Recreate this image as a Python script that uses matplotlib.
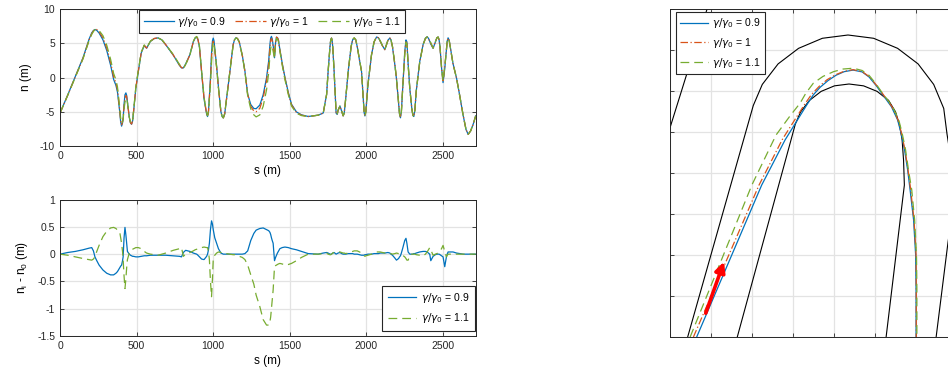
import numpy as np
import matplotlib
matplotlib.use("Agg")
import matplotlib.pyplot as plt
from matplotlib.ticker import FormatStrFormatter, MultipleLocator, NullFormatter

plt.rcParams["font.family"] = ["Liberation Sans", "DejaVu Sans"]
plt.rcParams["axes.unicode_minus"] = False
plt.rcParams["mathtext.fontset"] = "dejavusans"

# station along the track (m), lateral offset of the reference run (m)
# and deviations of the other two runs from it (m)
s_pos = [0, 50, 100, 150, 190, 207, 218, 228, 240, 255,
         280, 305, 330, 350, 365, 375, 390, 396, 402, 408,
         412, 418, 424, 430, 435, 440, 452, 460, 467, 474,
         480, 495, 511, 530, 550, 565, 590, 615, 640, 665,
         690, 739, 780, 793, 805, 820, 848, 870, 882, 892,
         900, 910, 924, 940, 957, 963, 969, 975, 982, 989,
         995, 1000, 1005, 1010, 1022, 1034, 1050, 1058, 1066, 1075,
         1085, 1109, 1130, 1139, 1148, 1158, 1170, 1190, 1207, 1225,
         1245, 1265, 1280, 1304, 1326, 1348, 1362, 1370, 1375, 1380,
         1385, 1391, 1400, 1407, 1413, 1419, 1425, 1435, 1450, 1468,
         1490, 1511, 1543, 1576, 1620, 1685, 1718, 1740, 1750, 1762,
         1767, 1772, 1776, 1780, 1789, 1798, 1802, 1809, 1815, 1827,
         1838, 1848, 1855, 1865, 1881, 1900, 1910, 1920, 1930, 1940,
         1955, 1968, 1980, 1985, 1990, 1996, 2010, 2033, 2050, 2066,
         2078, 2090, 2105, 2120, 2140, 2153, 2160, 2170, 2185, 2196,
         2210, 2216, 2222, 2228, 2236, 2250, 2258, 2264, 2272, 2283,
         2296, 2303, 2309, 2316, 2325, 2348, 2370, 2385, 2396, 2405,
         2413, 2420, 2435, 2450, 2460, 2468, 2474, 2480, 2490, 2500,
         2511, 2522, 2527, 2533, 2540, 2550, 2565, 2588, 2610, 2631,
         2650, 2664, 2680, 2697, 2713]

n_ref = [-5.2, -2.6, 0.1, 2.8, 5.5, 6.4, 6.8, 7.05, 7.0, 6.7,
         5.8, 4.3, 2.2, 0.1, -0.8, -1.8, -4.8, -6.3, -6.9, -6.5,
         -6.0, -4.2, -3.0, -2.6, -2.8, -3.6, -5.8, -6.6, -6.8, -6.3,
         -5.0, -1.5, 0.9, 3.6, 4.7, 4.3, 5.3, 5.7, 5.8, 5.5,
         4.8, 3.3, 1.8, 1.45, 1.37, 1.9, 3.3, 5.2, 5.75, 5.9,
         5.6, 4.5, 0.9, -3.0, -5.3, -5.7, -5.0, -3.0, -0.5, 3.0,
         4.8, 5.3, 5.0, 4.0, 1.5, -1.5, -5.0, -5.7, -5.9, -5.3,
         -3.5, 0.9, 4.8, 5.5, 5.8, 5.7, 5.2, 3.2, 0.9, -2.5,
         -4.2, -4.9, -5.0, -4.5, -3.0, -0.5, 2.0, 4.4, 5.4, 5.7,
         5.4, 4.5, 3.0, 5.2, 5.9, 5.8, 5.5, 4.0, 2.0, -0.1,
         -2.3, -4.0, -5.1, -5.5, -5.7, -5.5, -5.2, -2.5, 0.9, 4.5,
         5.5, 5.75, 5.4, 4.5, 0.9, -3.5, -5.2, -5.4, -4.8, -4.2,
         -4.9, -5.6, -5.2, -3.0, 0.9, 4.5, 5.5, 5.75, 5.5, 4.5,
         2.5, 0.9, -3.5, -5.1, -5.6, -5.0, -1.0, 3.3, 5.2, 5.9,
         5.8, 5.3, 4.6, 4.05, 5.4, 5.75, 5.5, 4.5, 2.0, -0.1,
         -3.8, -5.3, -5.85, -5.0, -1.8, 3.5, 5.2, 5.0, 2.0, -1.6,
         -4.5, -5.5, -5.7, -4.8, -2.0, 2.3, 4.8, 5.7, 5.9, 5.7,
         5.3, 5.0, 4.3, 5.2, 5.8, 5.9, 5.5, 4.5, 1.5, -0.7,
         1.5, 4.0, 5.3, 5.75, 5.4, 4.0, 2.0, -0.1, -2.8, -5.5,
         -7.6, -8.3, -7.8, -6.8, -5.6]

dn_09 = [0.0, 0.03, 0.05, 0.08, 0.11, 0.12, 0.06, -0.05, -0.12, -0.20,
         -0.29, -0.35, -0.38, -0.38, -0.35, -0.32, -0.25, -0.22, -0.20, -0.12,
         -0.05, 0.30, 0.49, 0.35, 0.20, 0.05, 0.0, -0.02, -0.03, -0.04,
         -0.04, -0.05, -0.05, -0.04, -0.03, -0.03, -0.02, -0.02, -0.02, -0.02,
         -0.02, -0.03, -0.04, -0.05, 0.03, 0.07, 0.05, 0.02, 0.01, 0.0,
         -0.02, -0.05, -0.09, -0.10, -0.04, 0.0, 0.08, 0.20, 0.45, 0.61,
         0.55, 0.45, 0.37, 0.30, 0.20, 0.10, 0.02, 0.01, 0.0, 0.0,
         0.0, 0.0, 0.0, 0.0, 0.0, 0.0, 0.0, 0.0, 0.01, 0.06,
         0.25, 0.38, 0.44, 0.47, 0.48, 0.45, 0.43, 0.40, 0.36, 0.30,
         0.25, 0.20, -0.12, -0.06, -0.02, 0.02, 0.05, 0.10, 0.12, 0.13,
         0.12, 0.10, 0.08, 0.05, 0.01, 0.0, 0.02, 0.03, 0.02, 0.0,
         0.0, 0.0, 0.01, 0.02, 0.03, 0.01, 0.0, 0.01, 0.02, 0.03,
         0.01, 0.0, 0.0, 0.0, 0.01, 0.01, 0.01, 0.0, 0.0, 0.0,
         -0.01, -0.02, -0.02, -0.02, -0.01, -0.01, 0.0, 0.0, 0.01, 0.01,
         0.01, 0.02, 0.02, 0.02, 0.03, 0.02, 0.0, -0.02, -0.07, -0.11,
         -0.08, -0.05, -0.03, 0.02, 0.10, 0.25, 0.29, 0.20, 0.04, 0.0,
         0.0, 0.0, 0.01, 0.01, 0.02, 0.04, 0.05, 0.05, 0.04, 0.02,
         0.0, -0.12, -0.04, -0.01, 0.0, 0.0, 0.0, -0.01, -0.03, -0.05,
         -0.23, -0.05, 0.0, 0.04, 0.04, 0.04, 0.04, 0.02, 0.01, 0.0,
         0.0, 0.0, 0.0, 0.0, 0.0]

dn_11 = [0.0, -0.02, -0.05, -0.08, -0.10, -0.11, -0.09, -0.05, 0.05, 0.16,
         0.32, 0.42, 0.48, 0.49, 0.47, 0.44, 0.40, 0.30, 0.20, 0.05,
         -0.10, -0.40, -0.63, -0.45, -0.25, -0.10, 0.02, 0.05, 0.08, 0.09,
         0.10, 0.12, 0.12, 0.10, 0.05, 0.02, 0.0, -0.01, -0.02, 0.0,
         0.02, 0.07, 0.10, 0.12, -0.04, 0.0, 0.03, 0.06, 0.08, 0.09,
         0.10, 0.11, 0.12, 0.13, 0.12, 0.12, 0.05, -0.10, -0.50, -0.78,
         -0.45, -0.10, -0.05, -0.02, 0.02, 0.04, 0.03, 0.02, 0.02, 0.01,
         0.01, 0.0, -0.01, -0.01, -0.02, -0.03, -0.04, -0.06, -0.10, -0.20,
         -0.38, -0.55, -0.75, -0.96, -1.20, -1.30, -1.30, -1.24, -1.15, -1.00,
         -0.85, -0.66, -0.23, -0.21, -0.20, -0.19, -0.18, -0.17, -0.18, -0.20,
         -0.19, -0.17, -0.12, -0.06, 0.0, 0.0, 0.01, 0.02, 0.0, -0.01,
         -0.01, 0.0, 0.01, 0.02, 0.03, 0.03, 0.04, 0.04, 0.04, 0.04,
         0.03, 0.02, 0.02, 0.01, 0.02, 0.04, 0.05, 0.06, 0.06, 0.06,
         0.04, 0.02, -0.02, -0.03, -0.04, -0.03, -0.02, 0.0, 0.02, 0.04,
         0.04, 0.04, 0.03, 0.02, 0.02, 0.01, 0.01, 0.0, 0.01, 0.02,
         0.01, 0.01, 0.0, -0.01, -0.02, -0.05, -0.08, -0.11, -0.11, -0.03,
         0.0, 0.0, 0.0, 0.0, -0.01, -0.02, -0.03, 0.0, 0.04, 0.08,
         0.12, 0.08, -0.02, 0.0, 0.01, 0.02, 0.04, 0.06, 0.10, 0.16,
         0.05, -0.05, -0.02, 0.0, 0.0, 0.0, 0.0, 0.0, 0.0, 0.0,
         0.0, 0.0, 0.0, 0.0, 0.0]

assert len(s_pos) == len(n_ref) == len(dn_09) == len(dn_11)

# track map around the hairpin (m)
outer_x = [8.6, 40.6, 45.0, 52.7, 62.7, 74.3, 86.8, 99.3, 111.0, 121.0,
           128.6, 133.5, 135.1, 137.1, 139.0, 135.6, 129.8]
outer_y = [0.0, 112.9, 123.2, 133.2, 140.8, 145.7, 147.3, 145.7, 140.8, 133.2,
           123.2, 111.5, 99.0, 86.3, 69.3, 46.3, 0.0]
inner_x = [32.8, 61.1, 63.7, 68.0, 73.7, 80.2, 87.3, 94.4, 101.0, 106.6,
           110.0, 112.0, 113.2, 113.9, 114.3, 105.4]
inner_y = [0.0, 103.8, 109.8, 115.4, 119.8, 122.5, 123.4, 122.5, 119.8, 115.4,
           109.8, 103.2, 96.1, 86.3, 74.1, 0.0]
edge_x = [-3.0, 19.0]
edge_y = [92.5, 163.0]

path09_x = [13.0, 44.7, 56.1, 66.7, 69.8, 73.2, 77.1, 81.0, 84.9, 89.3,
            93.7, 97.1, 100.5, 103.9, 108.0, 111.0, 112.7, 114.4, 115.9, 117.1,
            118.8, 119.8, 120.0, 120.0]
path09_y = [0.0, 74.1, 96.1, 113.2, 118.0, 121.8, 125.1, 127.7, 129.4, 130.2,
            129.3, 126.8, 122.7, 118.0, 112.3, 105.9, 99.4, 91.2, 81.5, 71.7,
            57.1, 40.0, 22.9, 0.0]
path10_x = [11.4, 43.4, 54.9, 65.6, 69.0, 72.7, 76.6, 80.7, 84.9, 89.3,
            93.8, 97.3, 100.7, 104.1, 108.3, 111.2, 112.9, 114.6, 116.1, 117.4,
            119.0, 120.0, 120.1, 120.1]
path10_y = [0.0, 74.1, 96.6, 113.4, 118.3, 122.2, 125.5, 127.9, 129.6, 130.4,
            129.4, 126.9, 122.8, 118.1, 112.3, 105.9, 99.4, 91.2, 81.5, 71.7,
            57.1, 40.0, 22.9, 0.0]
path11_x = [9.8, 39.9, 51.7, 58.5, 63.4, 66.3, 69.9, 74.6, 79.7, 84.4,
            89.4, 93.7, 97.1, 100.5, 103.9, 108.4, 111.5, 113.2, 114.9, 116.3,
            117.9, 119.3, 120.2, 120.4, 120.4]
path11_y = [0.0, 74.1, 98.5, 107.8, 114.0, 119.0, 123.8, 127.1, 129.4, 130.7,
            131.1, 130.0, 127.6, 123.4, 118.5, 112.7, 106.1, 99.5, 91.2, 81.5,
            71.7, 57.1, 40.0, 22.9, 0.0]

arrow_tail = (17.4, 11.6)
arrow_head = (26.3, 36.7)

C_BLUE = "#0072BD"
C_RED = "#D95319"
C_GREEN = "#77AC30"
LABELS = [r"$\gamma/\gamma_0$ = 0.9", r"$\gamma/\gamma_0$ = 1", r"$\gamma/\gamma_0$ = 1.1"]
FS = 7.5
LS_RED = (0, (6, 2, 1, 2))
LS_GREEN = (0, (7, 4))


def style_axes(ax):
    ax.grid(True, color="#E3E3E3", linewidth=0.9)
    ax.set_axisbelow(True)
    ax.tick_params(direction="in", top=True, right=True, length=3,
                   width=0.6, colors="#262626", labelsize=FS, pad=3.5)
    for sp in ax.spines.values():
        sp.set_color("#262626")
        sp.set_linewidth(0.7)


def style_legend(leg):
    fr = leg.get_frame()
    fr.set_edgecolor("#262626")
    fr.set_linewidth(0.8)
    fr.set_boxstyle("square", pad=0)


s = np.array(s_pos)
n1 = np.array(n_ref)
n09 = n1 + np.array(dn_09)
n11 = n1 + np.array(dn_11)

fig = plt.figure(figsize=(9.48, 3.80), dpi=100)

# lateral offset along the lap
ax1 = fig.add_axes([0.0633, 0.6158, 0.4388, 0.3605])
style_axes(ax1)
ax1.plot(s, n09, color=C_BLUE, lw=0.9, label=LABELS[0])
ax1.plot(s, n1, color=C_RED, lw=0.9, ls=LS_RED, label=LABELS[1])
ax1.plot(s, n11, color=C_GREEN, lw=0.9, ls=LS_GREEN, label=LABELS[2])
ax1.set_xlim(0, 2715)
ax1.set_ylim(-10, 10)
ax1.xaxis.set_major_locator(MultipleLocator(500))
ax1.yaxis.set_major_locator(MultipleLocator(5))
ax1.set_xlabel("s (m)", fontsize=8.5, labelpad=3)
ax1.set_ylabel("n (m)", fontsize=8.5, labelpad=6)
leg1 = ax1.legend(loc="upper center", bbox_to_anchor=(0.51, 0.99), ncol=3,
                  fontsize=FS, frameon=True, fancybox=False, framealpha=1,
                  handlelength=2.9, handletextpad=0.35, columnspacing=0.9,
                  borderpad=0.4, borderaxespad=0)
style_legend(leg1)

# deviation from the reference run
ax2 = fig.add_axes([0.0633, 0.1158, 0.4388, 0.359])
style_axes(ax2)
ax2.plot(s, dn_09, color=C_BLUE, lw=0.9, label=LABELS[0])
ax2.plot(s, dn_11, color=C_GREEN, lw=0.9, ls=LS_GREEN, label=LABELS[2])
ax2.set_xlim(0, 2715)
ax2.set_ylim(-1.5, 1)
ax2.xaxis.set_major_locator(MultipleLocator(500))
ax2.yaxis.set_major_locator(MultipleLocator(0.5))
ax2.yaxis.set_major_formatter(FormatStrFormatter("%g"))
ax2.set_xlabel("s (m)", fontsize=8.5, labelpad=3)
ax2.set_ylabel(r"n$_\mathregular{i}$ - n$_\mathregular{0}$ (m)", fontsize=8.5, labelpad=5)
leg2 = ax2.legend(loc="lower right", bbox_to_anchor=(0.997, 0.04), fontsize=FS,
                  frameon=True, fancybox=False, framealpha=1,
                  handlelength=2.7, handletextpad=0.5, borderpad=0.5,
                  labelspacing=0.6, borderaxespad=0)
style_legend(leg2)

# hairpin detail on the track map
ax3 = fig.add_axes([0.7068, 0.1132, 0.346, 0.8632])
style_axes(ax3)
ax3.plot(outer_x, outer_y, color="black", lw=0.8)
ax3.plot(inner_x, inner_y, color="black", lw=0.8)
ax3.plot(edge_x, edge_y, color="black", lw=0.8)
ax3.plot(path09_x, path09_y, color=C_BLUE, lw=0.9, label=LABELS[0])
ax3.plot(path10_x, path10_y, color=C_RED, lw=0.9, ls=LS_RED, label=LABELS[1])
ax3.plot(path11_x, path11_y, color=C_GREEN, lw=0.9, ls=LS_GREEN, label=LABELS[2])
ax3.annotate("", xy=arrow_head, xytext=arrow_tail,
             arrowprops=dict(arrowstyle="-|>", color="red", lw=2.6,
                             mutation_scale=15, shrinkA=0, shrinkB=0))
ax3.set_xlim(0, 160)
ax3.set_ylim(0, 160)
ax3.xaxis.set_major_locator(MultipleLocator(20))
ax3.yaxis.set_major_locator(MultipleLocator(20))
ax3.xaxis.set_major_formatter(NullFormatter())
ax3.yaxis.set_major_formatter(NullFormatter())
leg3 = ax3.legend(loc="upper left", bbox_to_anchor=(0.018, 0.99), fontsize=FS,
                  frameon=True, fancybox=False, framealpha=1,
                  handlelength=2.7, handletextpad=0.35, borderpad=0.4,
                  labelspacing=0.55, borderaxespad=0)
style_legend(leg3)

fig.savefig("out.png", dpi=100)
